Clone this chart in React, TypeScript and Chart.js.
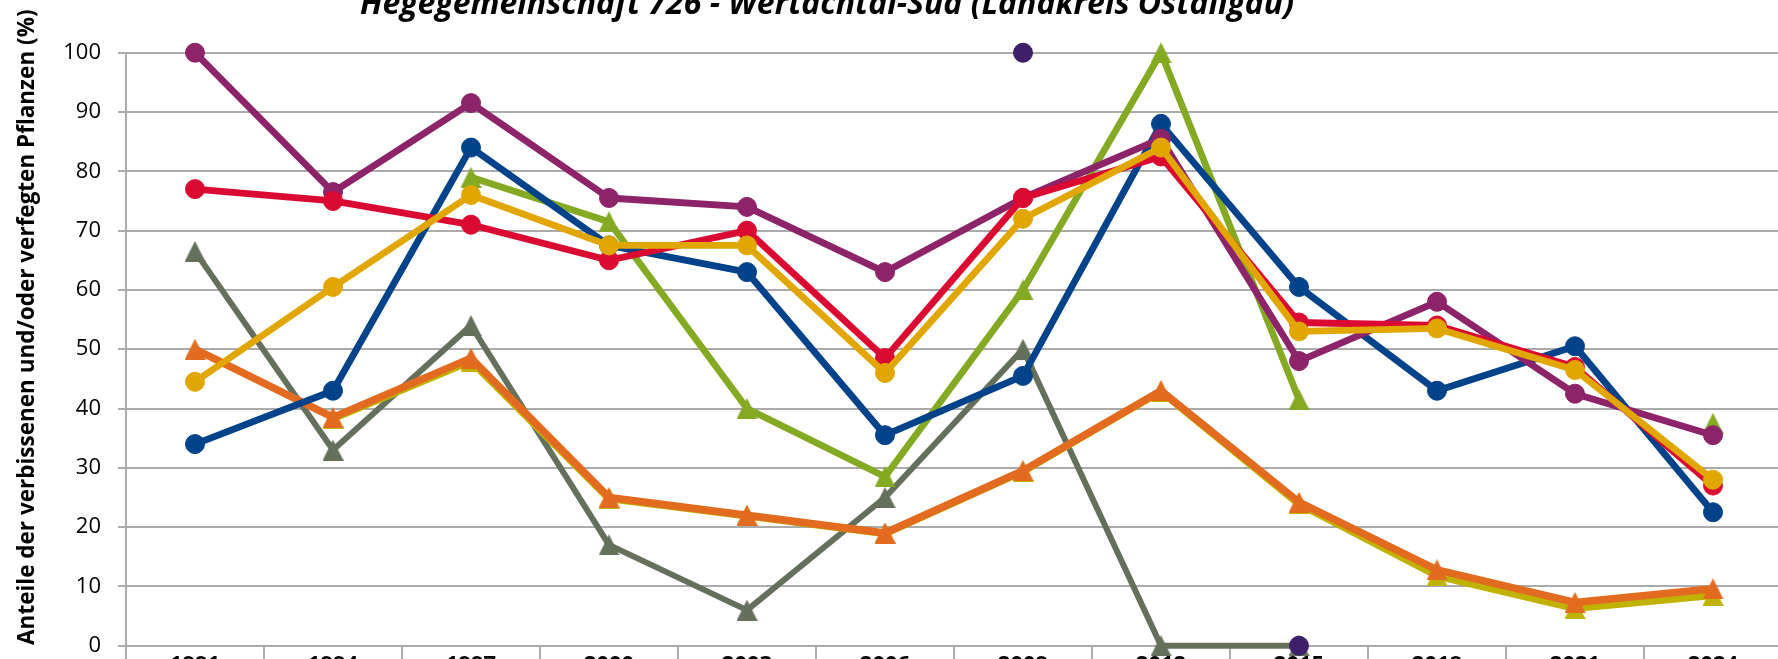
import React, { useEffect, useRef } from 'react';
import { Chart, registerables } from 'chart.js';

Chart.register(...registerables);

const chartTitle = 'Hegegemeinschaft 726 - Wertachtal-Süd (Landkreis Ostallgäu)';
const yAxisTitle = 'Anteile der verbissenen und/oder verfegten Pflanzen (%)';

const years = ['1991', '1994', '1997', '2000', '2003', '2006', '2009', '2012', '2015', '2018', '2021', '2024'];

const purpleValues = [100, 76.5, 91.5, 75.5, 74, 63, 75.5, 85.5, 48, 58, 42.5, 35.5];
const redValues = [77, 75, 71, 65, 70, 48.5, 75.5, 82.5, 54.5, 54, 47, 27];
const blueValues = [34, 43, 84, 67.5, 63, 35.5, 45.5, 88, 60.5, 43, 50.5, 22.5];
const goldValues = [44.5, 60.5, 76, 67.5, 67.5, 46, 72, 84, 53, 53.5, 46.5, 28];
const greenValues = [null, null, 79, 71.5, 40, 28.5, 60, 100, 41.5, null, null, 37.5];
const oliveValues = [null, 38.3, 48, 24.8, 21.9, 18.9, 29.4, 42.9, 23.9, 11.8, 6.3, 8.5];
const orangeValues = [50, 38.5, 48.5, 25, 22, 19, 29.5, 43, 24.2, 12.8, 7.3, 9.6];
const greyGreenValues = [66.5, 33, 54, 17, 6, 25, 50, 0, 0, null, null, null];
const darkPurpleValues = [null, null, null, null, null, null, 100, null, 0, null, null, null];

const GRID = '#ABABAB';
const FONT = '"Open Sans", "DejaVu Sans", sans-serif';

// canvas is larger than the window and shifted so that the visible crop matches
const SHIFT_X = 140;
const SHIFT_Y = 40;
const CANVAS_W = 1940;
const CANVAS_H = 750;

function makeTriangle(color: string, w: number, h: number) {
  const c = document.createElement('canvas');
  c.width = w;
  c.height = h;
  const g = c.getContext('2d')!;
  g.fillStyle = color;
  g.beginPath();
  g.moveTo(w / 2, 0);
  g.lineTo(w, h);
  g.lineTo(0, h);
  g.closePath();
  g.fill();
  return c;
}

const yTitlePlugin = {
  id: 'yTitleOverlay',
  afterDraw(chart: any) {
    const { ctx, chartArea } = chart;
    ctx.save();
    ctx.translate(chartArea.left - 98, (chartArea.top + chartArea.bottom) / 2 - 22);
    ctx.rotate(-Math.PI / 2);
    ctx.font = `bold 22.5px ${FONT}`;
    ctx.fillStyle = '#000';
    ctx.textAlign = 'center';
    ctx.textBaseline = 'middle';
    ctx.fillText(yAxisTitle, 0, 0);
    ctx.restore();
  },
};

export default function App() {
  const ref = useRef<HTMLCanvasElement | null>(null);

  useEffect(() => {
    if (!ref.current) return;

    const circle = (label: string, data: (number | null)[], color: string, order: number, width = 6.8) => ({
      label,
      data,
      borderColor: color,
      backgroundColor: color,
      borderWidth: width,
      pointStyle: 'circle',
      pointRadius: 9.5,
      pointBorderWidth: 1,
      pointBackgroundColor: color,
      pointBorderColor: color,
      borderJoinStyle: 'round',
      borderCapStyle: 'round',
      spanGaps: false,
      clip: false,
      order,
    });
    const triangle = (label: string, data: (number | null)[], color: string, order: number, width = 6.8) => ({
      label,
      data,
      borderColor: color,
      backgroundColor: color,
      borderWidth: width,
      pointStyle: makeTriangle(color, 21, 21),
      pointRadius: 10.5,
      pointBackgroundColor: color,
      pointBorderColor: color,
      borderJoinStyle: 'round',
      borderCapStyle: 'round',
      spanGaps: false,
      clip: false,
      order,
    });

    const chart = new Chart(ref.current, {
      type: 'line',
      data: {
        labels: years,
        datasets: [
          circle('Reihe 9', darkPurpleValues, '#3D1F6A', 0),
          circle('Reihe 4', goldValues, '#E2A600', 1),
          circle('Reihe 2', redValues, '#DB0A33', 2),
          circle('Reihe 1', purpleValues, '#8D2368', 3),
          circle('Reihe 3', blueValues, '#00438A', 4),
          triangle('Reihe 5', greenValues, '#84A922', 5),
          triangle('Reihe 7', orangeValues, '#E36B1F', 6, 7.5),
          triangle('Reihe 6', oliveValues, '#BFB200', 7, 7.5),
          triangle('Reihe 8', greyGreenValues, '#65705C', 8, 6),
        ] as any,
      },
      options: {
        responsive: false,
        animation: false,
        devicePixelRatio: 1,
        layout: { padding: { left: 4, right: 10, top: 0, bottom: 4.3 } },
        plugins: {
          legend: { display: false },
          tooltip: { enabled: false },
          title: {
            display: true,
            text: chartTitle,
            align: 'center',
            color: '#000',
            font: { family: FONT, size: 32, weight: 'bold', style: 'italic', lineHeight: 1.2 },
            padding: { top: 25.7, bottom: 28.6 },
          },
        },
        scales: {
          x: {
            type: 'category',
            offset: true,
            grid: {
              offset: true,
              drawOnChartArea: false,
              drawTicks: true,
              tickLength: 16,
              color: GRID,
              lineWidth: 2,
            },
            border: { display: true, color: GRID, width: 2 },
            ticks: {
              padding: -10,
              color: '#000',
              maxRotation: 0,
              autoSkip: false,
              font: { family: FONT, size: 22, weight: 'bold' },
            },
            afterFit: (s: any) => {
              s.height = 60;
            },
          },
          y: {
            min: 0,
            max: 100,
            ticks: {
              stepSize: 10,
              padding: 17,
              color: '#000',
              font: { family: FONT, size: 22 },
            },
            grid: { color: GRID, lineWidth: 2, tickLength: 8, drawTicks: true },
            border: { display: true, color: GRID, width: 2 },
            afterFit: (s: any) => {
              s.width = 262;
            },
          },
        },
        elements: { line: { tension: 0 } },
      } as any,
      plugins: [yTitlePlugin],
    });

    return () => chart.destroy();
  }, []);

  return (
    <div
      style={{
        position: 'fixed',
        left: 0,
        top: 0,
        width: 1778,
        height: 659,
        overflow: 'hidden',
        background: '#fff',
      }}
    >
      <canvas
        ref={ref}
        width={CANVAS_W}
        height={CANVAS_H}
        style={{ position: 'absolute', left: -SHIFT_X, top: -SHIFT_Y }}
      />
    </div>
  );
}
